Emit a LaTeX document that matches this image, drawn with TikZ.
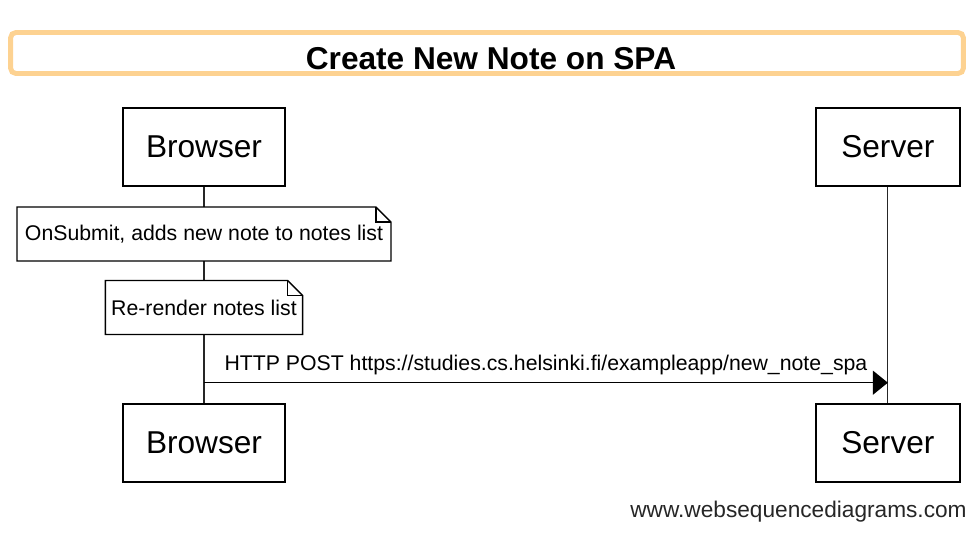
\documentclass[tikz,border=0pt]{standalone}
\usepackage{fontspec}
\setmainfont{Liberation Sans}
\usetikzlibrary{calc, arrows.meta}
\definecolor{titleorange}{RGB}{253,210,145}
\tikzstyle{actor}=[draw, thick, fill=white, minimum width=3.24cm, minimum height=1.56cm, font=\fontsize{18}{20}\selectfont]
\tikzstyle{note}=[fill=white, outer sep=0pt, minimum height=1.08cm, font=\fontsize{12.1}{14}\selectfont]
\tikzstyle{fold}=[draw, thick, line join=miter]
\tikzstyle{life}=[draw, black!85, line width=0.6pt]

\begin{document}
\begin{tikzpicture}[x=0.02cm,y=-0.02cm,node distance=13.68cm,>={Triangle[length=0.3cm,width=0.48cm]}]
  \useasboundingbox (0,0) rectangle (974,550);
  \node [draw=titleorange, line width=2.8pt, rounded corners=3pt, minimum width=19.06cm, minimum height=0.82cm] (bar) at (487,53) {};
  \node [font=\fontsize{18}{20}\selectfont\bfseries, anchor=base] (title) at (491,70) {Create New Note on SPA};
  \node [actor] (b1) at (204,147) {Browser};
  \node [actor, minimum width=2.88cm] (s1) [right of=b1] {Server};
  \node [actor] (b2) [below of=b1, node distance=5.92cm] {Browser};
  \node [actor, minimum width=2.88cm] (s2) [below of=s1, node distance=5.92cm] {Server};
  \path[life] (b1.south) -- (b2.north);
  \path[life] (s1.south) -- (s2.north);
  % notes on the browser line
  \node [note, minimum width=7.48cm] (n1) [below of=b1, node distance=1.74cm] {OnSubmit, adds new note to notes list};
  \node [note, minimum width=3.94cm] (n2) [below of=n1, node distance=1.47cm] {Re-render notes list};
  \foreach \n in {n1,n2} {
    \draw[fold] (\n.south west) -- (\n.north west) -- ($(\n.north east)+(-15,0)$) -- ($(\n.north east)+(0,15)$) -- (\n.south east) -- cycle;
    \draw[fold] ($(\n.north east)+(-15,0)$) |- ($(\n.north east)+(0,15)$);
  }
  \path (b1.south) ++(0,196) coordinate (p1);
  \path (s1.south) ++(0,196) coordinate (p2);
  \draw[->, line width=0.7pt] (p1) -- node[above=1pt, font=\fontsize{12.1}{14}\selectfont] (msg) {HTTP POST https://studies.cs.helsinki.fi/exampleapp/new\_note\_spa} (p2);
  \node [anchor=base east, inner sep=0pt, text=black!85, font=\fontsize{12.9}{15}\selectfont] (site) at (967,518) {www.websequencediagrams.com};
\end{tikzpicture}
\end{document}
